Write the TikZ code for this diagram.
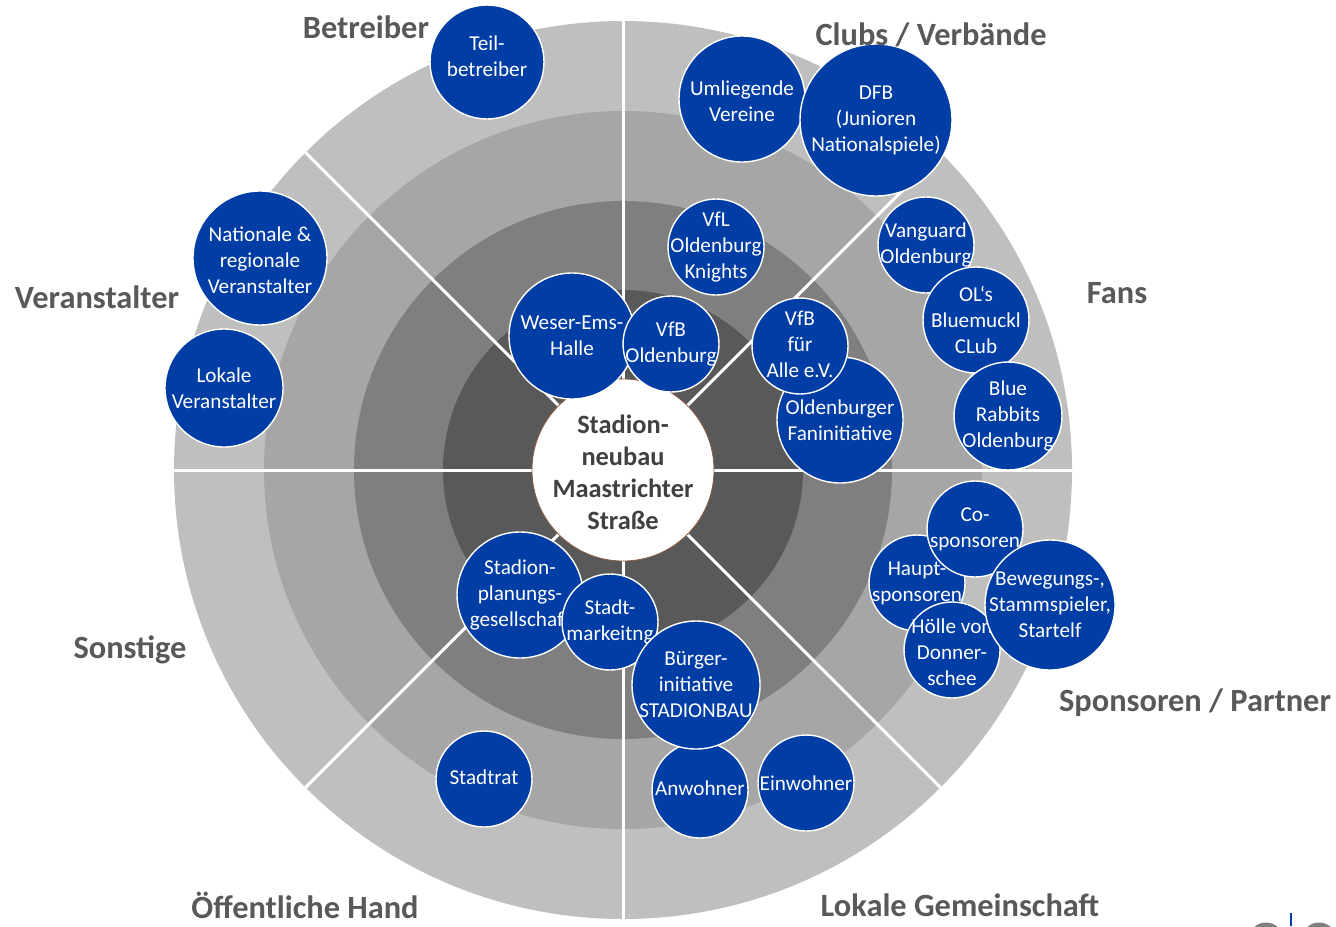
\documentclass[tikz,border=0pt]{standalone}
\usepackage{fontspec}
\setmainfont{Carlito}
\usepackage{xcolor}
\definecolor{ringA}{HTML}{BFBFBF}
\definecolor{ringB}{HTML}{A6A6A6}
\definecolor{ringC}{HTML}{7F7F7F}
\definecolor{ringD}{HTML}{595959}
\definecolor{stakeblue}{HTML}{003DA5}
\definecolor{labelgray}{HTML}{595959}
\definecolor{hubtext}{HTML}{404040}
\definecolor{hubedge}{HTML}{8C5A3C}

\begin{document}
\begin{tikzpicture}[x=0.5pt, y=-0.5pt,
    divider/.style={white, line width=1.5pt},
    bubble/.style={shape=circle, fill=stakeblue, draw=white, line width=0.7pt, minimum size=#1pt, inner sep=0pt},
    bubbletext/.style={text=white, align=center, inner sep=0pt, font=\fontsize{10.6}{13}\selectfont},
    grouplabel/.style={text=labelgray, font=\fontsize{16.2}{19}\selectfont\bfseries}
]
\useasboundingbox (0,0) rectangle (1336,926);

% Coordinates
\coordinate (mitte) at (623,470);

% Rings
\fill[ringA] (mitte) circle (449);
\fill[ringB] (mitte) circle (359);
\fill[ringC] (mitte) circle (269);
\fill[ringD] (mitte) circle (180);

% Sector lines
\foreach \a in {0,45,...,315}
  \draw[divider] (mitte) -- ++(\a:449);

% Hub
\node[shape=circle, fill=white, draw=hubedge, line width=0.4pt, minimum size=91pt, inner sep=0pt] (hub) at (mitte) {};
\node[text=hubtext, align=center, inner sep=0pt, font=\fontsize{13.2}{16}\selectfont\bfseries, yshift=-1pt] (hub-t) at (hub) {Stadion-\\neubau\\Maastrichter\\Straße};

% Betreiber
\node[bubble=57] (teil) at (487,62) {};
\node[bubbletext, yshift=3pt] (teil-t) at (teil) {Teil-\\betreiber};

% Clubs / Verbaende
\node[bubble=63] (umliegende) at (742,99) {};
\node[bubbletext, yshift=-1pt] (umliegende-t) at (umliegende) {Umliegende\\Vereine};
\node[bubble=76] (dfb) at (876,120) {};
\node[bubbletext] (dfb-t) at (dfb) {DFB\\(Junioren\\Nationalspiele)};
\node[bubble=48] (vfl) at (716,247) {};
\node[bubbletext] (vfl-t) at (vfl) {VfL\\Oldenburg\\Knights};
\node[bubble=63] (weser) at (572,336) {};
\node[bubbletext] (weser-t) at (weser) {Weser-Ems-\\Halle};
\node[bubble=48] (vfb) at (671,344) {};
\node[bubbletext] (vfb-t) at (vfb) {VfB\\Oldenburg};

% Fans
\node[bubble=48] (vanguard) at (926,245) {};
\node[bubbletext] (vanguard-t) at (vanguard) {Vanguard\\Oldenburg};
\node[bubble=53] (olclub) at (976,320) {};
\node[bubbletext] (olclub-t) at (olclub) {OL‘s\\Bluemuckl\\CLub};
\node[bubble=54] (rabbits) at (1008,416) {};
\node[bubbletext] (rabbits-t) at (rabbits) {Blue\\Rabbits\\Oldenburg};
\node[bubble=63] (faninit) at (840,420) {};
\node[bubbletext] (faninit-t) at (faninit) {Oldenburger\\Faninitiative};
\node[bubble=48] (vfballe) at (800,346) {};
\node[bubbletext, yshift=1pt] (vfballe-t) at (vfballe) {VfB\\für\\Alle e.V.};

% Veranstalter
\node[bubble=67] (nationale) at (260,258) {};
\node[bubbletext, yshift=-1pt] (nationale-t) at (nationale) {Nationale \&\\regionale\\Veranstalter};
\node[bubble=59] (lokale) at (224,388) {};
\node[bubbletext] (lokale-t) at (lokale) {Lokale\\Veranstalter};

% Sponsoren / Partner
\node[bubble=48] (haupt) at (917,583) {};
\node[bubbletext] (haupt-t) at (haupt) {Haupt-\\sponsoren};
\node[bubble=48] (co) at (975,529) {};
\node[bubbletext] (co-t) at (co) {Co-\\sponsoren};
\node[bubble=48] (hoelle) at (952,650) {};
\node[bubbletext, yshift=-1pt] (hoelle-t) at (hoelle) {Hölle von\\Donner-\\schee};
\node[bubble=65] (bewegung) at (1050,605) {};
\node[bubbletext] (bewegung-t) at (bewegung) {Bewegungs-,\\Stammspieler,\\Startelf};

% Lokale Gemeinschaft / Oeffentliche Hand
\node[bubble=63] (planung) at (520,595) {};
\node[bubbletext] (planung-t) at (planung) {Stadion-\\planungs-\\gesellschaft};
\node[bubble=48] (anwohner) at (700,790) {};
\node[bubbletext, yshift=1pt] (anwohner-t) at (anwohner) {Anwohner};
\node[bubble=48] (marketing) at (610,622) {};
\node[bubbletext] (marketing-t) at (marketing) {Stadt-\\markeitng};
\node[bubble=64] (buerger) at (696,685) {};
\node[bubbletext] (buerger-t) at (buerger) {Bürger-\\initiative\\STADIONBAU};
\node[bubble=48] (einwohner) at (806,783) {};
\node[bubbletext] (einwohner-t) at (einwohner) {Einwohner};
\node[bubble=48] (stadtrat) at (484,779) {};
\node[bubbletext, yshift=1pt] (stadtrat-t) at (stadtrat) {Stadtrat};

% Group labels
\node[grouplabel] (betreiber) at (366,27) {Betreiber};
\node[grouplabel] (clubs) at (931,35) {Clubs / Verbände};
\node[grouplabel] (fans) at (1117,293) {Fans};
\node[grouplabel] (veranstalter) at (97,297) {Veranstalter};
\node[grouplabel] (sonstige) at (130,650) {Sonstige};
\node[grouplabel] (oeffentlich) at (305,905) {Öffentliche Hand};
\node[grouplabel] (gemeinschaft) at (960,905) {Lokale Gemeinschaft};
\node[grouplabel] (sponsoren) at (1195,703) {Sponsoren / Partner};

% Logo corner
\draw[ringC, line width=2.5pt] (1266,940) circle (15);
\draw[ringC, line width=2.5pt] (1319,940) circle (15);
\fill[stakeblue] (1290,913) rectangle (1292,926);

\end{tikzpicture}
\end{document}
